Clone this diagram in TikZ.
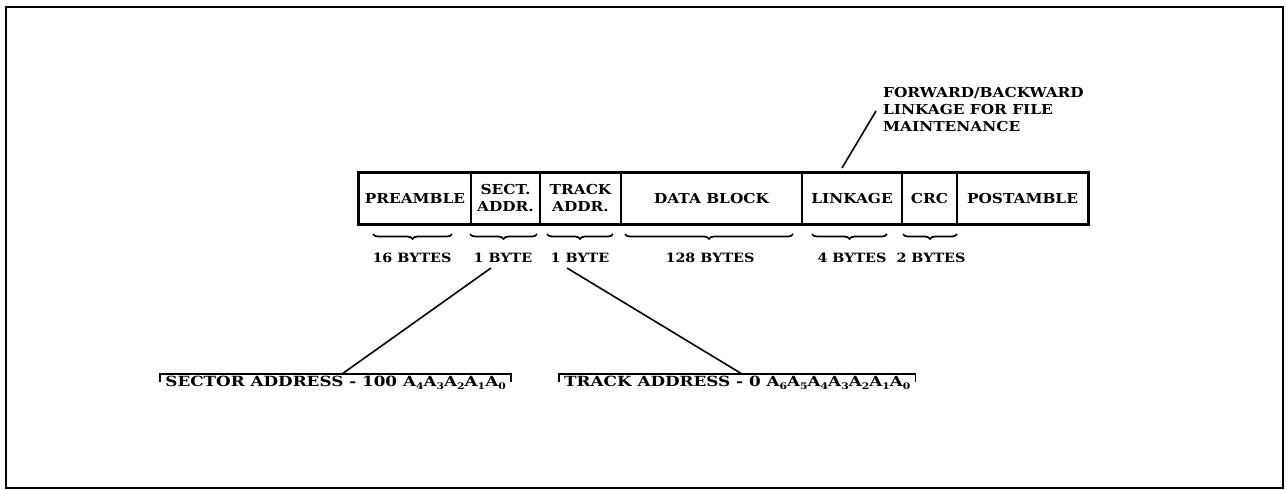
\documentclass[tikz,border=0pt]{standalone}
\usepackage{fontspec}
\newfontfamily\djs{DejaVu Serif}[FakeStretch=1.12]
\newfontfamily\djw{DejaVu Serif}[FakeStretch=1.2]
\usetikzlibrary{decorations.pathreplacing}
\newcommand\Asb[1]{A{\fontsize{9}{9}\selectfont\raisebox{-3pt}{#1}}}
\begin{document}
\begin{tikzpicture}[x=1pt,y=-1pt,
  cell/.style={draw, line width=1.6pt, minimum height=51pt, inner sep=0pt, align=center,
    font=\djs\bfseries\fontsize{13.7}{16}\selectfont},
  lbl/.style={inner sep=0pt, font=\djs\bfseries\fontsize{12.8}{15}\selectfont},
  note/.style={inner sep=0pt, align=left, font=\djs\bfseries\fontsize{13.7}{17}\selectfont},
  btxt/.style={inner xsep=2pt, inner ysep=2pt, font=\djw\bfseries\fontsize{14}{16}\selectfont},
  brc/.style={decorate, decoration={brace, mirror, amplitude=5pt}, line width=1.7pt},
  lead/.style={line width=1.6pt},
  bracket/.style={line width=1.6pt}]
\useasboundingbox (0,0) rectangle (1286,490);
\draw[line width=2.6pt] (6,7) rectangle (1283,488);
% bar cells
\node[cell, minimum width=112pt] (pre)   at (415,198.5)   {PREAMBLE};
\node[cell, minimum width=69pt]  (sect)  at (505.5,198.5) {SECT.\\[1pt]ADDR.};
\node[cell, minimum width=81pt]  (track) at (580.5,198.5) {TRACK\\[1pt]ADDR.};
\node[cell, minimum width=181pt] (data)  at (711.5,198.5) {DATA BLOCK};
\node[cell, minimum width=100pt] (link)  at (852,198.5)   {LINKAGE};
\node[cell, minimum width=55pt]  (crc)   at (929.5,198.5) {CRC};
\node[cell, minimum width=131pt] (post)  at (1022.5,198.5){POSTAMBLE};
\draw[line width=2.8pt] (pre.north west) rectangle (post.south east);
% braces
\draw[brc] (373,234) -- (452,234);
\draw[brc] (470,234) -- (537,234);
\draw[brc] (547,234) -- (613,234);
\draw[brc] (625,234) -- (793,234);
\draw[brc] (812,234) -- (887,234);
\draw[brc] (903,234) -- (957,234);
% byte labels
\node[lbl] (l1) at (412,258) {16 BYTES};
\node[lbl] (l2) at (503,258) {1 BYTE};
\node[lbl] (l3) at (580,258) {1 BYTE};
\node[lbl] (l4) at (710,258) {128 BYTES};
\node[lbl] (l5) at (852,258) {4 BYTES};
\node[lbl] (l6) at (931,258) {2 BYTES};
% linkage note
\node[note, anchor=north west] (fb) at (883,87) {FORWARD/BACKWARD\\LINKAGE FOR FILE\\MAINTENANCE};
\coordinate (fbl) at (876,111);
\coordinate (lkt) at (842,168);
\draw[lead] (lkt) -- (fbl);
% address boxes
\node[btxt, anchor=north east] (sa) at (508,374) {SECTOR ADDRESS - 100 \Asb{4}\Asb{3}\Asb{2}\Asb{1}\Asb{0}};
\node[btxt, anchor=north west] (ta) at (562,374) {TRACK ADDRESS - 0 \Asb{6}\Asb{5}\Asb{4}\Asb{3}\Asb{2}\Asb{1}\Asb{0}};
\draw[bracket] ([xshift=-3pt,yshift=-8pt]sa.north west) -- ([xshift=-3pt]sa.north west) -- ([xshift=3pt]sa.north east) -- ([xshift=3pt,yshift=-8pt]sa.north east);
\draw[bracket] ([xshift=-3pt,yshift=-8pt]ta.north west) -- ([xshift=-3pt]ta.north west) -- ([xshift=3pt]ta.north east) -- ([xshift=3pt,yshift=-8pt]ta.north east);
\coordinate (s1) at (491,268);
\coordinate (s2) at (342,374);
\coordinate (t1) at (567,268);
\coordinate (t2) at (742,374);
\draw[lead] (s1) -- (s2);
\draw[lead] (t1) -- (t2);
\end{tikzpicture}
\end{document}
